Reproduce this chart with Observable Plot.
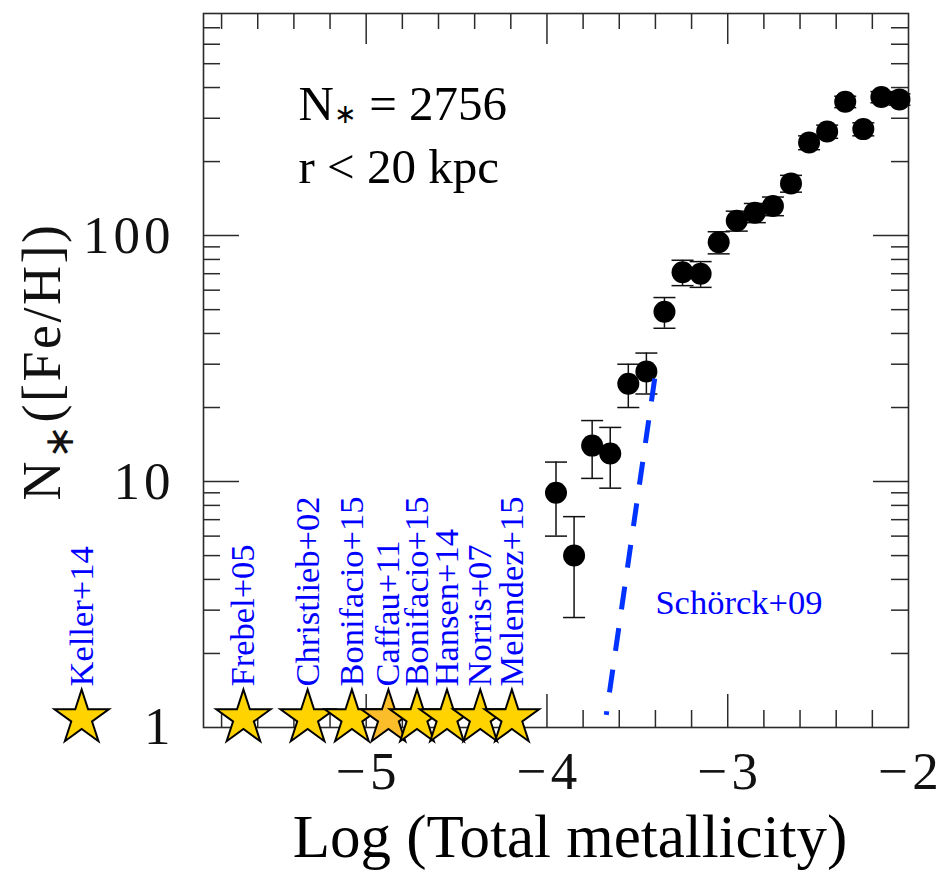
<!DOCTYPE html>
<html>
<head>
<meta charset="utf-8">
<script src="https://cdn.jsdelivr.net/npm/d3@7"></script>
<script src="https://cdn.jsdelivr.net/npm/@observablehq/plot@0.6"></script>
<style>
  html, body { margin: 0; padding: 0; background: #fff; }
</style>
</head>
<body>
<div id="chart"></div>
<script>
// ---- data ----
const binX = [-3.95, -3.85, -3.75, -3.65, -3.55, -3.45, -3.35, -3.25, -3.15, -3.05,
              -2.95, -2.85, -2.75, -2.65, -2.55, -2.45, -2.35, -2.25, -2.15, -2.05];
const binCount = [9, 5, 14, 13, 25, 28, 49, 71, 70, 94,
                  115, 124, 132, 163, 239, 265, 350, 271, 366, 358];
const binErr = [3.0, 2.2, 3.7, 3.6, 5.0, 5.3, 7.0, 8.4, 8.4, 9.7,
                10.7, 11.1, 11.5, 12.8, 15.5, 16.3, 18.7, 16.5, 19.1, 18.9];

const starNames = ["Keller+14", "Frebel+05", "Christlieb+02", "Bonifacio+15", "Caffau+11",
                   "Bonifacio+15", "Hansen+14", "Norris+07", "Melendez+15"];
const starX = [-6.574, -5.679, -5.324, -5.079, -4.877, -4.719, -4.553, -4.369, -4.194];
const starN = [1, 1, 1, 1, 1, 1, 1, 1, 1];
const starColor = ["#FFD300", "#FFD300", "#FFD300", "#FFD300", "#FBBE2A",
                   "#FFD300", "#FFD300", "#FFD300", "#FFD300"];

const schorckX = [-3.404, -3.672];
const schorckY = [26.2, 1.126];
const schorckLabel = "Schörck+09";
const schorckLabelX = -3.400;
const schorckLabelY = 3.22;

const xTickLabels = [-5, -4, -3, -2];
const xMajorTicks = [-5, -4, -3];
const xMinorTicks = [-5.8, -5.6, -5.4, -5.2, -4.8, -4.6, -4.4, -4.2, -3.8, -3.6, -3.4, -3.2,
                     -2.8, -2.6, -2.4, -2.2];
const yTickLabels = [1, 10, 100];
const yMajorTicks = [10, 100];
const yMinorTicks = [2, 3, 4, 5, 6, 7, 8, 9, 20, 30, 40, 50, 60, 70, 80, 90,
                     200, 300, 400, 500, 600, 700];

const annotation1 = "N∗ = 2756";
const annotation2 = "r < 20 kpc";
const xTitle = "Log (Total metallicity)";
const yTitle = "N∗([Fe/H])";

// ---- build tables ----
const bins = binX.map((x, i) => ({x, n: binCount[i], lo: binCount[i] - binErr[i], hi: binCount[i] + binErr[i]}));
const stars = starX.map((x, i) => ({x, n: starN[i], name: starNames[i], color: starColor[i]}));
const schorck = schorckX.map((x, i) => ({x, y: schorckY[i]}));

// ---- layout ----
const W = 944, H = 876, mL = 203, mR = 36, mT = 13, mB = 149;
const FW = W - mL - mR, FH = H - mT - mB;
const serif = "'Liberation Serif', 'Times New Roman', serif";
const tickColor = "#2a2a2a";
const blue = "#0000ff";
const fmtX = d => `−${Math.abs(d)}`;

const capSymbol = {
  draw(ctx, size) {
    const w = Math.sqrt(size / Math.PI);
    ctx.moveTo(-w, 0);
    ctx.lineTo(w, 0);
  }
};

const chart = Plot.plot({
  width: W, height: H,
  marginLeft: mL, marginRight: mR, marginTop: mT, marginBottom: mB,
  x: {domain: [-5.9, -2], axis: null},
  y: {type: "log", domain: [1, 800], axis: null},
  style: {background: "white", fontFamily: serif},
  marks: [
    // inward ticks, all four sides
    Plot.tickX(xMajorTicks, {x: d => d, insetTop: FH - 33, stroke: tickColor, strokeWidth: 1.5}),
    Plot.tickX(xMinorTicks, {x: d => d, insetTop: FH - 17, stroke: tickColor, strokeWidth: 1.5}),
    Plot.tickX(xMajorTicks, {x: d => d, insetBottom: FH - 31, stroke: tickColor, strokeWidth: 1.5}),
    Plot.tickX(xMinorTicks, {x: d => d, insetBottom: FH - 16, stroke: tickColor, strokeWidth: 1.5}),
    Plot.tickY(yMajorTicks, {y: d => d, insetRight: FW - 36, stroke: tickColor, strokeWidth: 1.5}),
    Plot.tickY(yMinorTicks, {y: d => d, insetRight: FW - 17, stroke: tickColor, strokeWidth: 1.5}),
    Plot.tickY(yMajorTicks, {y: d => d, insetLeft: FW - 35, stroke: tickColor, strokeWidth: 1.5}),
    Plot.tickY(yMinorTicks, {y: d => d, insetLeft: FW - 17, stroke: tickColor, strokeWidth: 1.5}),
    Plot.frame({stroke: tickColor, strokeWidth: 1.6}),

    // tick labels
    Plot.text(xTickLabels, {x: d => d, frameAnchor: "bottom", lineAnchor: "middle", dy: 45, dx: 2,
      text: fmtX, fontSize: 53, fill: "#111"}),
    Plot.text(yTickLabels, {y: d => d, frameAnchor: "left", lineAnchor: "middle", dx: -29, textAnchor: "end",
      text: d => String(d), fontSize: 53, fill: "#111"}),

    // axis titles
    Plot.text([xTitle], {frameAnchor: "bottom", lineAnchor: "middle", dx: 14, dy: 110, text: d => d,
      fontSize: 61, fill: "#000"}),
    Plot.text([yTitle], {frameAnchor: "left", lineAnchor: "middle", textAnchor: "start", dx: -161, dy: 130,
      rotate: -90, text: d => d, fontSize: 54, fill: "#111"}),

    // annotations
    Plot.text([annotation1], {frameAnchor: "top-left", lineAnchor: "middle", dx: 95, dy: 91, textAnchor: "start",
      text: d => d, fontSize: 49, fill: "#000"}),
    Plot.text([annotation2], {frameAnchor: "top-left", lineAnchor: "middle", dx: 95, dy: 154, textAnchor: "start",
      text: d => d, fontSize: 49, fill: "#000"}),

    // error bars
    Plot.ruleX(bins, {x: "x", y1: "lo", y2: "hi", stroke: "#111", strokeWidth: 1.5}),
    Plot.dot(bins, {x: "x", y: "hi", symbol: capSymbol, r: 11, fill: "none", stroke: "#111", strokeWidth: 1.5}),
    Plot.dot(bins, {x: "x", y: "lo", symbol: capSymbol, r: 11, fill: "none", stroke: "#111", strokeWidth: 1.5}),
    // data points
    Plot.dot(bins, {x: "x", y: "n", r: 11, fill: "#000", stroke: "none"}),

    // Schörck+09 dashed line
    Plot.line(schorck, {x: "x", y: "y", stroke: "#0033ff", strokeWidth: 5, strokeDasharray: "23,19", strokeLinecap: "butt"}),
    Plot.text([schorckLabel], {x: () => schorckLabelX, y: () => schorckLabelY, lineAnchor: "middle", textAnchor: "start",
      text: d => d, fontSize: 34.5, fill: blue}),

    // record stars
    Plot.dot(stars, {x: "x", y: "n", symbol: "star", r: 17.1, dy: -9.4, fill: "color", stroke: "#000", strokeWidth: 2}),
    Plot.text(stars, {x: "x", y: "n", text: "name", rotate: -90, lineAnchor: "middle", textAnchor: "start", dy: -41,
      fontSize: 34.5, fill: blue})
  ]
});

document.getElementById("chart").appendChild(chart);

// letter spacing for the Computer-Modern-like tick labels
const spaced = new Set([...xTickLabels.map(fmtX), ...yTickLabels.map(String)]);
d3.select(chart).selectAll("text").each(function () {
  const t = this.textContent;
  if (spaced.has(t)) d3.select(this).style("letter-spacing", "4px");
});

// subscript asterisk
function subscriptStar(content, sizeEm, dyPx, spacing) {
  d3.select(chart).selectAll("text").each(function () {
    if (this.textContent !== content) return;
    const [a, b] = content.split("∗");
    const sel = d3.select(this);
    sel.text(null);
    if (spacing) sel.style("letter-spacing", spacing);
    sel.append("tspan").text(a);
    sel.append("tspan").attr("dy", dyPx).attr("font-size", sizeEm + "em").text("∗");
    sel.append("tspan").attr("dy", -dyPx).text(b);
  });
}
subscriptStar(annotation1, 0.55, 3, null);
subscriptStar(yTitle, 0.75, 13, "2.5px");
</script>
</body>
</html>
